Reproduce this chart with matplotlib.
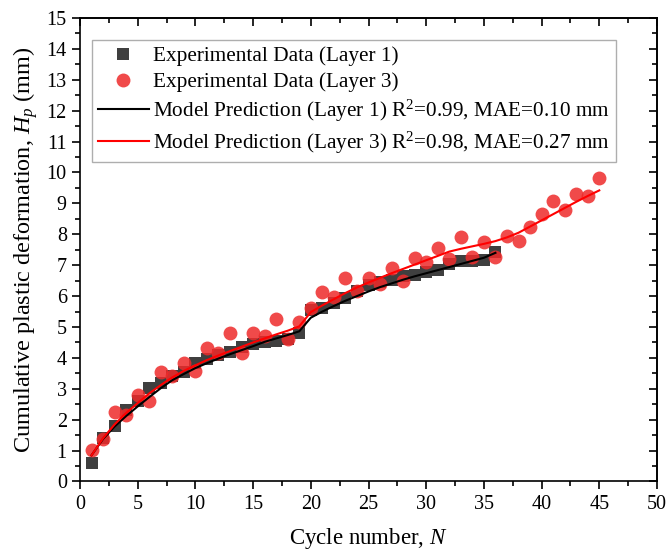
import matplotlib
matplotlib.use("Agg")
import matplotlib.pyplot as plt
from matplotlib.ticker import MultipleLocator

plt.rcParams['font.family'] = ['Liberation Serif', 'DejaVu Serif']
plt.rcParams['mathtext.fontset'] = 'custom'
plt.rcParams['mathtext.rm'] = 'Liberation Serif'
plt.rcParams['mathtext.it'] = 'Liberation Serif:italic'

# Experimental data
n_layer1 = list(range(1, 37))
hp_layer1 = [0.61, 1.40, 1.81, 2.31, 2.60, 3.02, 3.18, 3.40, 3.55, 3.82,
             3.96, 4.09, 4.18, 4.36, 4.44, 4.53, 4.54, 4.62, 4.80, 5.55,
             5.60, 5.77, 5.93, 6.17, 6.36, 6.44, 6.52, 6.66, 6.68, 6.79,
             6.84, 7.05, 7.12, 7.15, 7.18, 7.44]

n_layer3 = list(range(1, 46))
hp_layer3 = [1.02, 1.36, 2.26, 2.15, 2.80, 2.60, 3.53, 3.42, 3.82, 3.58,
             4.31, 4.15, 4.80, 4.15, 4.80, 4.70, 5.25, 4.60, 5.17, 5.60,
             6.12, 5.98, 6.58, 6.18, 6.60, 6.38, 6.92, 6.49, 7.24, 7.11,
             7.55, 7.19, 7.90, 7.27, 7.74, 7.26, 7.93, 7.79, 8.22, 8.66,
             9.07, 8.77, 9.30, 9.25, 9.82]

# Model predictions
n_model1 = list(range(1, 37))
hp_model1 = [0.85, 1.38, 1.78, 2.12, 2.43, 2.73, 3.02, 3.28, 3.48, 3.67,
             3.83, 3.98, 4.12, 4.25, 4.38, 4.52, 4.63, 4.74, 4.86, 5.30,
             5.50, 5.68, 5.85, 6.00, 6.15, 6.29, 6.41, 6.53, 6.64, 6.74,
             6.84, 6.94, 7.04, 7.14, 7.24, 7.40]

n_model3 = list(range(1, 46))
hp_model3 = [0.85, 1.40, 1.85, 2.22, 2.54, 2.85, 3.12, 3.37, 3.58, 3.76,
             3.93, 4.08, 4.22, 4.36, 4.50, 4.63, 4.76, 4.88, 5.02, 5.48,
             5.70, 5.90, 6.10, 6.28, 6.44, 6.59, 6.74, 6.88, 7.02, 7.16,
             7.30, 7.44, 7.53, 7.61, 7.69, 7.78, 7.90, 8.05, 8.25, 8.45,
             8.65, 8.85, 9.05, 9.24, 9.42]

fig = plt.figure(figsize=(6.68, 5.53), dpi=100)
ax = fig.add_axes([0.1198, 0.1293, 0.8637, 0.8382])

ax.plot(n_layer1, hp_layer1, linestyle='none', marker='s', markersize=8.6,
        color='#3f3f3f', markeredgewidth=0, label='Experimental Data (Layer 1)', zorder=3)
ax.plot(n_layer3, hp_layer3, linestyle='none', marker='o', markersize=10,
        color='#ee2a2a', alpha=0.85, markeredgewidth=0,
        label='Experimental Data (Layer 3)', zorder=4)
ax.plot(n_model1, hp_model1, color='black', linewidth=1.5,
        label='Model Prediction (Layer 1) R$^{2}$=0.99, MAE=0.10 mm', zorder=5)
ax.plot(n_model3, hp_model3, color='#ff0000', linewidth=1.5,
        label='Model Prediction (Layer 3) R$^{2}$=0.98, MAE=0.27 mm', zorder=6)

ax.set_xlim(0, 50)
ax.set_ylim(0, 15)
ax.xaxis.set_major_locator(MultipleLocator(5))
ax.xaxis.set_minor_locator(MultipleLocator(2.5))
ax.yaxis.set_major_locator(MultipleLocator(1))
ax.yaxis.set_minor_locator(MultipleLocator(0.5))

ax.tick_params(axis='both', which='major', direction='out', length=6, width=1.2,
               labelsize=14.5, top=False, right=False)
ax.tick_params(axis='both', which='minor', direction='out', length=3.5, width=1.2,
               top=False, right=False)
for sp in ax.spines.values():
    sp.set_linewidth(1.2)

# mirrored inward ticks on top and right
secx = ax.secondary_xaxis('top')
secx.xaxis.set_major_locator(MultipleLocator(5))
secx.xaxis.set_minor_locator(MultipleLocator(2.5))
secx.tick_params(which='major', direction='in', length=6, width=1.2, labeltop=False)
secx.tick_params(which='minor', direction='in', length=3.5, width=1.2)
secx.spines['top'].set_linewidth(1.2)
secy = ax.secondary_yaxis('right')
secy.yaxis.set_major_locator(MultipleLocator(1))
secy.yaxis.set_minor_locator(MultipleLocator(0.5))
secy.tick_params(which='major', direction='in', length=6, width=1.2, labelright=False)
secy.tick_params(which='minor', direction='in', length=3.5, width=1.2)
secy.spines['right'].set_linewidth(1.2)

ax.set_xlabel('Cycle number, $N$', fontsize=16.5, labelpad=9)
ax.set_ylabel('Cumulative plastic deformation, $H_p$ (mm)', fontsize=17.5, labelpad=5)

leg = ax.legend(loc='upper left', bbox_to_anchor=(0.02, 0.952), fontsize=15.3,
                frameon=True, fancybox=False, edgecolor='#9a9a9a',
                handlelength=2.4, handletextpad=0.2, borderpad=0.3,
                labelspacing=0.27, borderaxespad=0.0)
leg.get_frame().set_linewidth(1.0)

fig.savefig('out.png', dpi=100)
